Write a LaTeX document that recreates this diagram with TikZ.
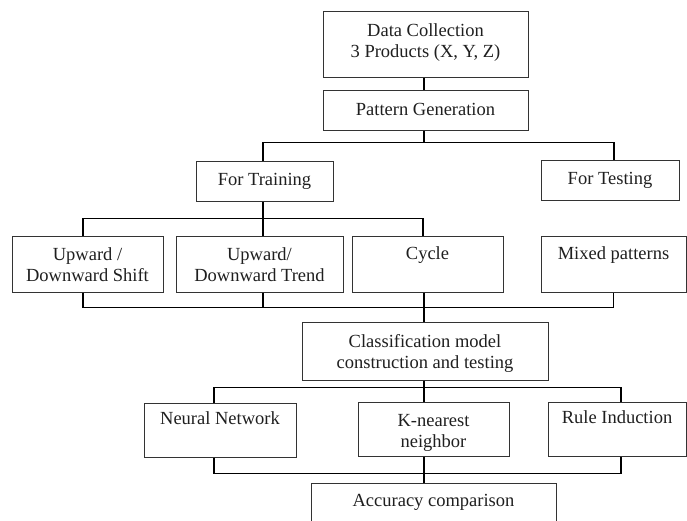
\documentclass[tikz,border=0pt]{standalone}
\usepackage{fontspec}
\setmainfont{Liberation Serif}
\begin{document}
\begin{tikzpicture}[x=1pt,y=-1pt,
  box/.style={draw=black!80, line width=1pt, inner sep=0pt, rectangle},
  txt/.style={font=\fontsize{18.5}{21}\selectfont, text=black!88, align=center, inner sep=0pt, anchor=north},
  conn/.style={draw=black, line width=1.4pt}]
\useasboundingbox (0,0) rectangle (687,521);
\clip (0,0) rectangle (687,521);
% boxes: center, width, height
\node[box, minimum width=205, minimum height=66] (dc) at (425.5,45) {};
\node[box, minimum width=205, minimum height=40] (pg) at (425.5,111) {};
\node[box, minimum width=137, minimum height=40] (ft) at (264.5,182) {};
\node[box, minimum width=138, minimum height=40] (fte) at (610,181) {};
\node[box, minimum width=151, minimum height=56] (shift) at (87.5,264) {};
\node[box, minimum width=167, minimum height=56] (trend) at (259.5,264) {};
\node[box, minimum width=151, minimum height=56] (cycle) at (427.5,264) {};
\node[box, minimum width=145, minimum height=56] (mixed) at (613.5,264) {};
\node[box, minimum width=246, minimum height=58] (cls) at (425,351) {};
\node[box, minimum width=152, minimum height=54] (nn) at (220,430) {};
\node[box, minimum width=151, minimum height=54] (knn) at (433.5,429) {};
\node[box, minimum width=138, minimum height=54] (ri) at (617,429) {};
\node[box, minimum width=245, minimum height=60] (acc) at (433.5,513) {};
% texts
\node[txt] (tdc) at ([yshift=-10pt]dc.north) {\strut Data Collection\\3 Products (X, Y, Z)};
\node[txt] (tpg) at ([yshift=-10pt]pg.north) {\strut Pattern Generation};
\node[txt] (tft) at ([yshift=-9.5pt]ft.north) {\strut For Training};
\node[txt] (tfte) at ([yshift=-9.5pt]fte.north) {\strut For Testing};
\node[txt] (tshift) at ([yshift=-10pt]shift.north) {\strut Upward /\\Downward Shift};
\node[txt] (ttrend) at ([yshift=-10pt]trend.north) {\strut Upward/\\Downward Trend};
\node[txt] (tcycle) at ([yshift=-9pt]cycle.north) {\strut Cycle};
\node[txt] (tmixed) at ([yshift=-9pt]mixed.north) {\strut Mixed patterns};
\node[txt] (tcls) at ([yshift=-11pt]cls.north) {\strut Classification model\\construction and testing};
\node[txt] (tnn) at ([yshift=-7.5pt]nn.north) {\strut Neural Network};
\node[txt] (tknn) at ([yshift=-10pt]knn.north) {\strut K-nearest\\neighbor};
\node[txt] (tri) at ([yshift=-7.5pt]ri.north) {\strut Rule Induction};
\node[txt] (tacc) at ([yshift=-9pt]acc.north) {\strut Accuracy comparison};
% connectors
\draw[conn] ([xshift=-1.5pt]dc.south) -- ([xshift=-1.5pt]pg.north);
\draw[conn] ([xshift=-1.5pt]pg.south) -- ++(0,12);
\draw[conn] ([xshift=-1.5pt]ft.north) -- ++(0,-19) -| ([xshift=4pt]fte.north);
\draw[conn] ([xshift=-4.5pt]shift.north) -- ++(0,-17) -| ([xshift=-4.5pt]cycle.north);
\draw[conn] ([xshift=-1.5pt]ft.south) -- ([xshift=3.5pt]trend.north);
\draw[conn] ([xshift=-4.5pt]shift.south) -- ++(0,15) -| (mixed.south);
\draw[conn] ([xshift=3.5pt]trend.south) -- ++(0,15);
\draw[conn] ([xshift=-3.5pt]cycle.south) -- ([xshift=-1pt]cls.north);
\draw[conn] ([xshift=-6pt]nn.north) -- ++(0,-15) -| ([xshift=4pt]ri.north);
\draw[conn] ([xshift=-1pt]cls.south) -- ([xshift=-9.5pt]knn.north);
\draw[conn] ([xshift=-6pt]nn.south) -- ++(0,16) -| ([xshift=4pt]ri.south);
\draw[conn] ([xshift=-9.5pt]knn.south) -- ([xshift=-9.5pt]acc.north);
\end{tikzpicture}
\end{document}
